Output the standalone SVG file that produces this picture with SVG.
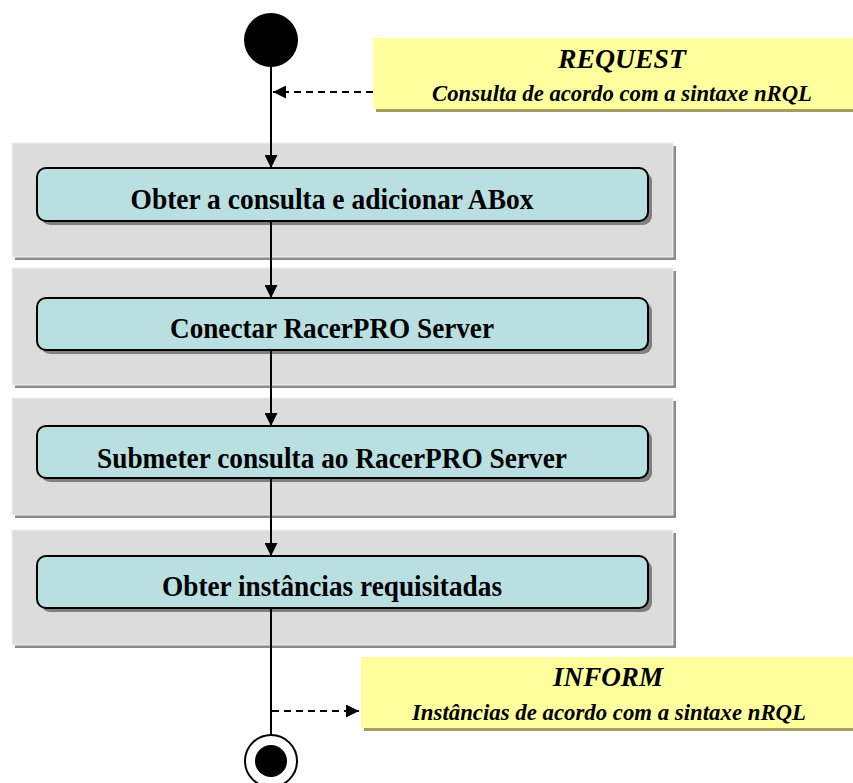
<svg xmlns="http://www.w3.org/2000/svg" width="853" height="783" viewBox="0 0 853 783">
<defs>
<style>
.grp{fill:#DCDCDC;stroke:#F0F0F0;stroke-width:1}
.gsh{fill:#8A8A8A}
.act{fill:#B9DFE1;stroke:#000;stroke-width:2}
.ash{fill:#808080}
.note{fill:#FFFF9E}
.nsh{fill:#A39E62}
.atxt{font-family:"Liberation Serif","Times New Roman",serif;font-weight:bold;font-size:29px;text-anchor:middle;fill:#000}
.ntitle{font-family:"Liberation Serif","Times New Roman",serif;font-weight:bold;font-style:italic;font-size:27px;text-anchor:middle;fill:#000}
.nsub{font-family:"Liberation Serif","Times New Roman",serif;font-weight:bold;font-style:italic;font-size:24px;text-anchor:middle;fill:#000}
.flow{stroke:#000;stroke-width:2;fill:none}
.dash{stroke:#000;stroke-width:2;fill:none;stroke-dasharray:7,5}
</style>
<marker id="ah" viewBox="0 0 10 10" refX="10" refY="5" markerWidth="13" markerHeight="13" markerUnits="userSpaceOnUse" orient="auto">
<path d="M0,0 L10,5 L0,10 Z" fill="#000"/>
</marker>
</defs>
<g id="grp1"><rect class="gsh" x="15" y="146" width="661" height="114"/><rect class="grp" x="12" y="143" width="661" height="114"/></g>
<g id="grp2"><rect class="gsh" x="15" y="271" width="661" height="117"/><rect class="grp" x="12" y="268" width="661" height="117"/></g>
<g id="grp3"><rect class="gsh" x="15" y="401" width="661" height="117"/><rect class="grp" x="12" y="398" width="661" height="117"/></g>
<g id="grp4"><rect class="gsh" x="15" y="533" width="661" height="115"/><rect class="grp" x="12" y="530" width="661" height="115"/></g>
<g id="start"><circle cx="271" cy="40" r="27" fill="#000"/></g>
<g id="note-request">
<rect class="nsh" x="376" y="41" width="477" height="71"/>
<rect class="note" x="373" y="38" width="480" height="71"/>
<text class="ntitle" x="622" y="68" textLength="128" lengthAdjust="spacingAndGlyphs">REQUEST</text>
<text class="nsub" x="622" y="101" textLength="380" lengthAdjust="spacingAndGlyphs">Consulta de acordo com a sintaxe nRQL</text>
</g>
<g id="act1"><rect class="ash" x="41" y="172" width="611" height="53" rx="9"/><rect class="act" x="37" y="168" width="611" height="53" rx="9"/><text class="atxt" x="332" y="209" textLength="403" lengthAdjust="spacingAndGlyphs">Obter a consulta e adicionar ABox</text></g>
<g id="act2"><rect class="ash" x="41" y="302" width="611" height="52" rx="9"/><rect class="act" x="37" y="298" width="611" height="52" rx="9"/><text class="atxt" x="332" y="338" textLength="324" lengthAdjust="spacingAndGlyphs">Conectar RacerPRO Server</text></g>
<g id="act3"><rect class="ash" x="41" y="430" width="611" height="52" rx="9"/><rect class="act" x="37" y="426" width="611" height="52" rx="9"/><text class="atxt" x="332" y="468" textLength="470" lengthAdjust="spacingAndGlyphs">Submeter consulta ao RacerPRO Server</text></g>
<g id="act4"><rect class="ash" x="41" y="560" width="611" height="52" rx="9"/><rect class="act" x="37" y="556" width="611" height="52" rx="9"/><text class="atxt" x="332" y="596" textLength="340" lengthAdjust="spacingAndGlyphs">Obter instâncias requisitadas</text></g>
<g id="note-inform">
<rect class="nsh" x="364" y="660" width="489" height="71"/>
<rect class="note" x="361" y="657" width="492" height="71"/>
<text class="ntitle" x="608" y="686" textLength="110" lengthAdjust="spacingAndGlyphs">INFORM</text>
<text class="nsub" x="609" y="720" textLength="394" lengthAdjust="spacingAndGlyphs">Instâncias de acordo com a sintaxe nRQL</text>
</g>
<g id="end"><circle cx="271" cy="761" r="26" fill="#fff" stroke="#000" stroke-width="2"/><circle cx="271" cy="761" r="16" fill="#000"/></g>
<g id="connectors">
<path class="flow" d="M271,67 V168" marker-end="url(#ah)"/>
<path class="flow" d="M271,221 V298" marker-end="url(#ah)"/>
<path class="flow" d="M271,350 V426" marker-end="url(#ah)"/>
<path class="flow" d="M271,478 V556" marker-end="url(#ah)"/>
<path class="flow" d="M271,608 V735"/>
<path class="dash" d="M373,92 H273" marker-end="url(#ah)"/>
<path class="dash" d="M272,711 H359" marker-end="url(#ah)"/>
</g>
</svg>
